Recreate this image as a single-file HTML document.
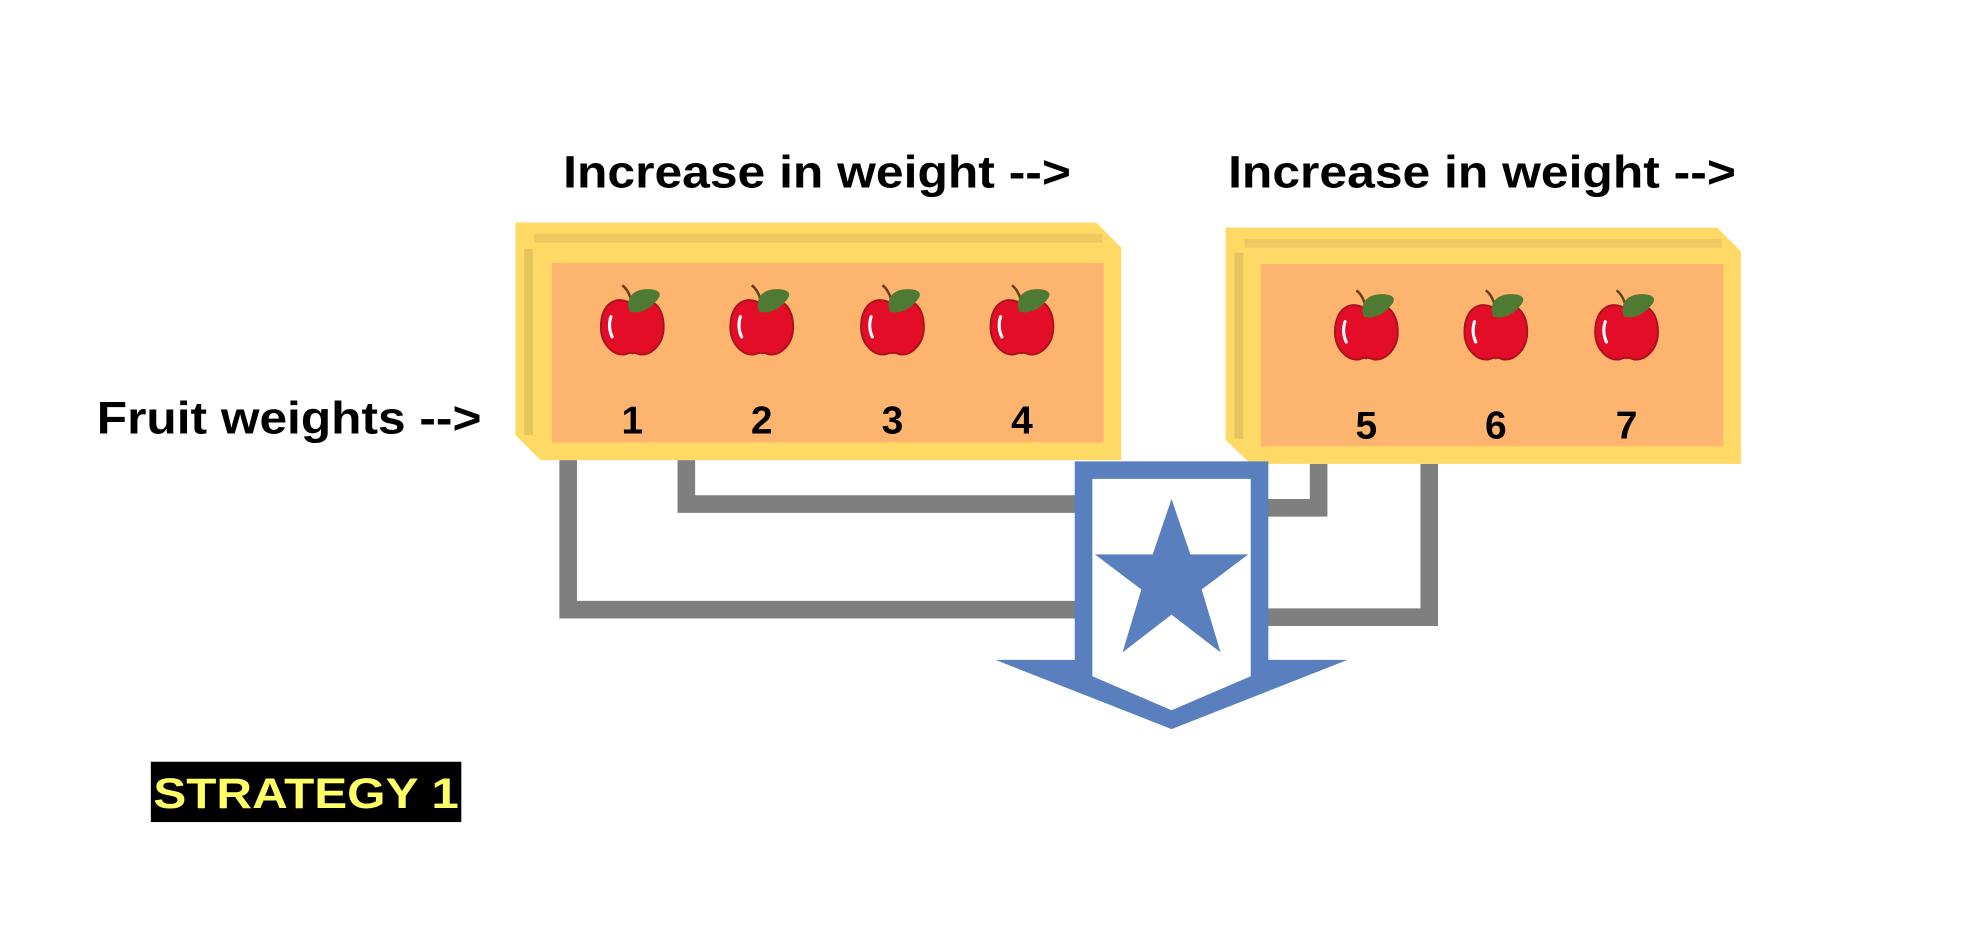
<!DOCTYPE html>
<html><head><meta charset="utf-8"><style>html,body{margin:0;padding:0;background:#fff}svg{display:block}</style></head>
<body>
<svg width="1971" height="941" viewBox="0 0 1568 748.6" preserveAspectRatio="none" font-family="Liberation Sans, sans-serif" font-weight="bold">
<defs>
<g id="apple">
<path d="M-1,-18 C-3,-24 -5,-27 -8,-29" stroke="#6b3d1d" stroke-width="2" fill="none"/>
<path d="M0,-14 C-12,-22 -25,-15 -25,4 C-25,18 -15,27 -6,26 C-3,25 -1,24 0,25 C1,24 3,25 6,26 C15,27 25,18 25,4 C25,-15 12,-22 0,-14Z" fill="#e30d27" stroke="#a8141d" stroke-width="1.5"/>
<path d="M-17,-4 C-19,2 -18,8 -16,12" stroke="#fff" stroke-width="2.5" fill="none" stroke-linecap="round"/>
<path d="M-2,-8 C-6,-18 0,-26 12,-26 C22,-26 23,-22 21,-19 C15,-10 6,-6 -2,-8Z" fill="#4e7a33"/>
</g>
</defs>
<rect width="1568" height="748.6" fill="#fff"/>
<text x="448" y="149" font-size="36" textLength="404" lengthAdjust="spacingAndGlyphs">Increase in weight --&gt;</text>
<text x="977" y="149" font-size="36" textLength="404" lengthAdjust="spacingAndGlyphs">Increase in weight --&gt;</text>
<text x="77" y="345" font-size="36" textLength="306" lengthAdjust="spacingAndGlyphs">Fruit weights --&gt;</text>

<g fill="none" stroke="#7f7f7f" stroke-width="14">
<path d="M452,366 V485 H862"/>
<path d="M546,366 V401 H862"/>
<path d="M1049,369 V404 H1005"/>
<path d="M1137,369 V491 H1005"/>
</g>

<g>
<polygon points="410,177 872,177 892,197 892,366 430,366 410,346" fill="#ffd966"/>
<rect x="425" y="186" width="452" height="7" fill="#efc862"/>
<rect x="417" y="198" width="7" height="148" fill="#e6c55e"/>
<rect x="439" y="209" width="439" height="143" fill="#fdb46f"/>
</g>
<g>
<polygon points="975,181 1366,181 1385,200 1385,369 995,369 975,350" fill="#ffd966"/>
<rect x="990" y="190" width="380" height="7" fill="#efc862"/>
<rect x="982" y="201" width="7" height="148" fill="#e6c55e"/>
<rect x="1003" y="210" width="368" height="145" fill="#fdb46f"/>
</g>

<g id="apples"></g>

<g>
<polygon points="855,367 1009,367 1009,525 1072,525 932,580 792,525 855,525" fill="#5a7fbf"/>
<polygon points="869,381 995,381 995,538 932,565 869,538" fill="#fff"/>
<polygon points="932,397 947,441 993,441 956,469 971,519 932,489 893,519 908,469 871,441 917,441" fill="#5a7fbf"/>
</g>

<rect x="120" y="606" width="247" height="48" fill="#000"/>
<text x="122" y="643" font-size="34" fill="#ffff66" textLength="243" lengthAdjust="spacingAndGlyphs">STRATEGY 1</text>
</svg>
<script>
const fruitLabels = ['1','2','3','4','5','6','7'];
const fruitX = [503,606,710,813,1087,1190,1294];
const ns = 'http://www.w3.org/2000/svg';
const g = document.getElementById('apples');
fruitLabels.forEach((lab,i)=>{
  const left = i < 4;
  const u = document.createElementNS(ns,'use');
  u.setAttribute('href','#apple');
  u.setAttribute('transform','translate('+fruitX[i]+','+(left?256:260)+')');
  
  
  g.appendChild(u);
  const t = document.createElementNS(ns,'text');
  t.setAttribute('x', fruitX[i]);
  t.setAttribute('y', left?345:349);
  t.setAttribute('text-anchor','middle');
  t.setAttribute('font-size','31');
  t.textContent = lab;
  
  
  g.appendChild(t);
});
</script>
</body></html>
